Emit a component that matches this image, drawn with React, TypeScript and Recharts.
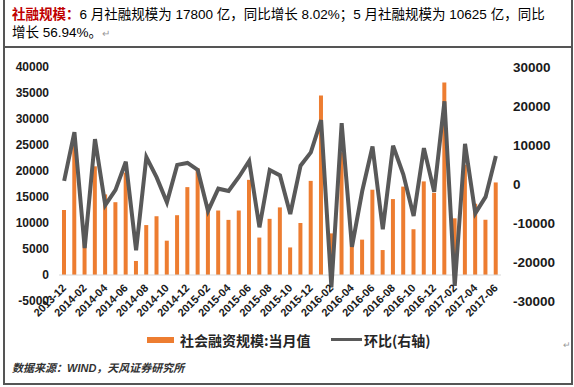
import { ComposedChart, Bar, Line, XAxis, YAxis, ReferenceLine } from 'recharts';

const months = [
  '2013-12',
  '2014-01', '2014-02', '2014-03', '2014-04', '2014-05', '2014-06',
  '2014-07', '2014-08', '2014-09', '2014-10', '2014-11', '2014-12',
  '2015-01', '2015-02', '2015-03', '2015-04', '2015-05', '2015-06',
  '2015-07', '2015-08', '2015-09', '2015-10', '2015-11', '2015-12',
  '2016-01', '2016-02', '2016-03', '2016-04', '2016-05', '2016-06',
  '2016-07', '2016-08', '2016-09', '2016-10', '2016-11', '2016-12',
  '2017-01', '2017-02', '2017-03', '2017-04', '2017-05', '2017-06',
];

// 社会融资规模:当月值 (亿元)
const monthlyValue = [
  12500,
  25800, 9400, 20900, 15500, 14000, 19700,
  2700, 9600, 11300, 6600, 11500, 16900,
  20500, 13600, 12400, 10600, 12400, 18300,
  7200, 10800, 13000, 5300, 10000, 18100,
  34500, 8000, 23600, 7500, 6800, 16400,
  4800, 14600, 17000, 8800, 18000, 15800,
  37000, 10900, 21200, 13700, 10625, 17800,
];

// 环比(右轴)
const momChange = [
  800,
  13300, -16400, 11500, -5400, -1500, 5700,
  -17000, 6900, 1700, -4700, 4900, 5400,
  3600, -6900, -1200, -1800, 1800, 5900,
  -11100, 3600, 2200, -7700, 4700, 8100,
  16400, -26500, 15600, -16100, -1800, 9600,
  -11600, 9800, 2400, -8200, 9200, -2000,
  21200, -26100, 10300, -7500, -3300, 7200,
];

const leftTicks = [-5000, 0, 5000, 10000, 15000, 20000, 25000, 30000, 35000, 40000];
const rightTicks = [-30000, -20000, -10000, 0, 10000, 20000, 30000];

const data = months.map((m, i) => ({ month: m, value: monthlyValue[i], mom: momChange[i] }));

const ORANGE = '#ED7D31';
const GRAY = '#595959';
const latin = '"Liberation Sans", Arial, "Noto Sans CJK SC", sans-serif';

const MonthTick = (props: any) => {
  const { x, y, payload } = props;
  const ty = y - 15;
  return (
    <text
      x={x}
      y={ty}
      dy="0.35em"
      textAnchor="end"
      transform={`rotate(-45, ${x}, ${ty})`}
      fontSize={11}
      fontWeight="bold"
      fontFamily={latin}
      fill="#1a1a1a"
    >
      {payload.value}
    </text>
  );
};

export default function App() {
  return (
    <div style={{ position: 'absolute', left: 0, top: 0, width: 574, height: 387, background: '#fff', overflow: 'hidden' }}>
      {/* heading text */}
      <div style={{ position: 'absolute', left: 12, top: 6, width: 556, fontFamily: latin, fontSize: 13.5, lineHeight: '18px', color: '#000', whiteSpace: 'nowrap' }}>
        <div>
          <span style={{ color: '#C00000', fontWeight: 'bold' }}>社融规模：</span>
          6 月社融规模为 17800 亿，同比增长 8.02%；5 月社融规模为 10625 亿，同比
        </div>
        <div>
          增长 56.94%。<span style={{ color: '#999', fontSize: 10 }}>↵</span>
        </div>
      </div>

      {/* frame */}
      <div style={{ position: 'absolute', left: 3, top: -4, width: 566, height: 385, border: '2px solid #555' }} />
      <div style={{ position: 'absolute', left: 3, top: 46, width: 568, height: 2, background: '#555' }} />

      <div style={{ position: 'absolute', left: 0, top: 48 }}>
        <ComposedChart width={574} height={334} data={data} margin={{ top: 19, right: 0, bottom: 71, left: 0 }}>
          <XAxis
            dataKey="month"
            xAxisId="x"
            axisLine={false}
            tickLine={false}
            tickSize={0}
            tickMargin={0}
            height={10}
            interval={1}
            tick={<MonthTick />}
          />
          <YAxis
            yAxisId="left"
            domain={[-5000, 40000]}
            ticks={leftTicks}
            width={59}
            axisLine={false}
            tickLine={false}
            tickSize={0}
            tickMargin={10}
            interval={0}
            tick={{ fontSize: 12, fontWeight: 'bold', fill: '#1a1a1a', fontFamily: latin }}
          />
          <YAxis
            yAxisId="right"
            orientation="right"
            domain={[-30000, 30000]}
            ticks={rightTicks}
            width={73}
            axisLine={false}
            tickLine={false}
            tickSize={0}
            tickMargin={12}
            interval={0}
            tick={{ fontSize: 13.5, fontWeight: 'bold', fill: '#1a1a1a', fontFamily: latin }}
          />
          <ReferenceLine yAxisId="left" xAxisId="x" y={0} stroke="#d9d9d9" strokeWidth={1} />
          <Bar
            dataKey="value"
            xAxisId="x"
            yAxisId="left"
            fill={ORANGE}
            barSize={4}
            isAnimationActive={false}
          />
          <Line
            dataKey="mom"
            xAxisId="x"
            yAxisId="right"
            type="linear"
            stroke={GRAY}
            strokeWidth={4}
            dot={false}
            activeDot={false}
            isAnimationActive={false}
          />
        </ComposedChart>
      </div>

      {/* legend */}
      <div style={{ position: 'absolute', left: 147, top: 337, width: 27, height: 6, background: ORANGE }} />
      <div style={{ position: 'absolute', left: 180, top: 331, fontFamily: '"Noto Sans CJK SC", sans-serif', fontWeight: 'bold', fontSize: 14, lineHeight: '18px', color: '#262626', whiteSpace: 'nowrap' }}>
        社会融资规模:当月值
      </div>
      <div style={{ position: 'absolute', left: 331, top: 338, width: 31, height: 3, background: GRAY }} />
      <div style={{ position: 'absolute', left: 364, top: 331, fontFamily: '"Noto Sans CJK SC", sans-serif', fontWeight: 'bold', fontSize: 14, lineHeight: '18px', color: '#262626', whiteSpace: 'nowrap' }}>
        环比(右轴)
      </div>
      <div style={{ position: 'absolute', left: 563, top: 340, fontSize: 9, color: '#999', fontFamily: latin }}>↵</div>

      {/* source */}
      <div style={{ position: 'absolute', left: 12, top: 360, fontFamily: latin, fontStyle: 'italic', fontWeight: 'bold', fontSize: 11, lineHeight: '16px', color: '#333', whiteSpace: 'nowrap' }}>
        数据来源：WIND，天风证券研究所
      </div>
    </div>
  );
}
